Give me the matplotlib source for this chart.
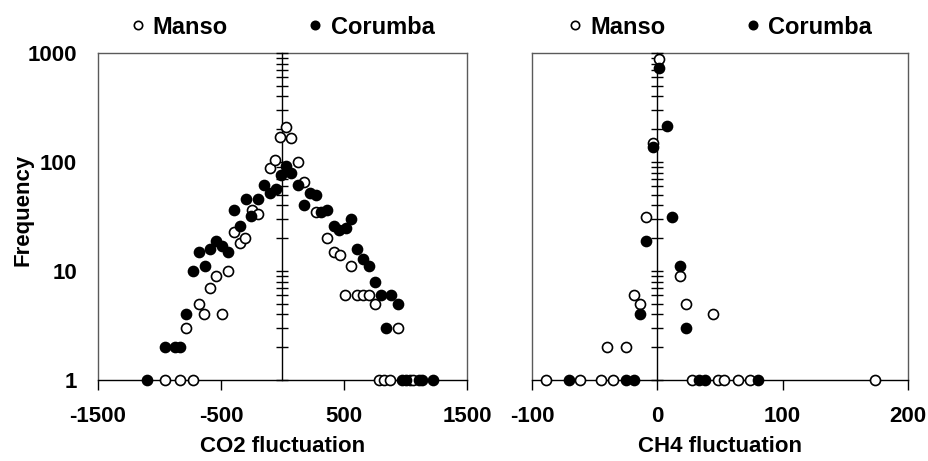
import matplotlib
matplotlib.use('Agg')
import matplotlib.pyplot as plt
from matplotlib.lines import Line2D
from matplotlib.ticker import FixedLocator, LogLocator, NullLocator, NullFormatter

plt.rcParams['font.family'] = ['Liberation Sans', 'DejaVu Sans']
plt.rcParams['font.weight'] = 'bold'

# ---------------- data ----------------
co2_manso_x = [-959, -831, -731, -782, -682, -636, -587, -540, -492, -443, -397, -348,
               -302, -247, -198, -103, -57, -22, 30, 73, 125, 174, 269, 364, 418, 465,
               508, 560, 603, 655, 704, 750, 785, 826, 875, 935, 1037, 1065]
co2_manso_y = [1, 1, 1, 3, 5, 4, 7, 9, 4, 10, 23, 18,
               20, 36, 33, 89, 104, 171, 211, 167, 100, 66, 35, 20, 15, 14,
               6, 11, 6, 6, 6, 5, 1, 1, 1, 3, 1, 1]

co2_corumba_x = [-1103, -959, -878, -831, -782, -731, -682, -633, -587, -540, -492, -443,
                 -397, -348, -296, -253, -198, -152, -103, -49, -16, 30, 73, 125, 174,
                 222, 269, 315, 364, 418, 459, 513, 560, 603, 657, 704, 750, 799, 839,
                 886, 935, 970, 1003, 1110, 1135, 1220]
co2_corumba_y = [1, 2, 2, 2, 4, 10, 15, 11, 16, 19, 17, 15,
                 36, 26, 46, 32, 46, 62, 52, 56, 76, 91, 79, 62, 40,
                 52, 50, 35, 36, 26, 24, 25, 30, 16, 13, 11, 8, 6, 3,
                 6, 5, 1, 1, 1, 1, 1]

ch4_manso_x = [-88.8, -61.7, -44.9, -35.6, -40, -25, -18.6, -13.8, -9.3, -3.7, 1.6,
               18.1, 22.9, 27.4, 44.2, 48.7, 53.5, 64.1, 74, 174]
ch4_manso_y = [1, 1, 1, 1, 2, 2, 6, 5, 31, 148, 876,
               9, 5, 1, 4, 1, 1, 1, 1, 1]

ch4_corumba_x = [-70.2, -25, -18.4, -13.8, -9.3, -3.7, 1.6, 7.5, 12, 18.1, 22.9,
                 33.5, 38.1, 80.6]
ch4_corumba_y = [1, 1, 1, 4, 19, 138, 724, 214, 31, 11, 3,
                 1, 1, 1]

co2_xticks = [-1500, -500, 500, 1500]
ch4_xticks = [-100, 0, 100, 200]
y_ticks = [1, 10, 100, 1000]
y_ticklabels = ['1', '10', '100', '1000']

W, H = 929, 461
fig = plt.figure(figsize=(W / 100, H / 100), dpi=100)
ax1 = fig.add_axes([98 / W, 81 / H, 369 / W, 327 / H])
ax2 = fig.add_axes([532 / W, 81 / H, 376 / W, 327 / H])

FS = 16
frame_col = '#5a5a5a'


def setup(ax, xlim, xticks, xlabel, show_ylabels, mx, my, cx, cy):
    ax.set_yscale('log')
    ax.set_ylim(1, 1000)
    ax.set_xlim(*xlim)
    ax.xaxis.set_major_locator(FixedLocator(xticks))
    ax.set_xticklabels([str(t) for t in xticks])
    ax.xaxis.set_minor_locator(NullLocator())
    ax.yaxis.set_major_locator(FixedLocator(y_ticks))
    ax.yaxis.set_minor_locator(NullLocator())
    ax.yaxis.set_minor_formatter(NullFormatter())
    if show_ylabels:
        ax.set_yticklabels(y_ticklabels)
    else:
        ax.set_yticklabels([])
    ax.tick_params(axis='y', length=0, pad=15, labelsize=FS)
    ax.tick_params(axis='x', direction='out', length=7, width=1, pad=12, labelsize=FS)
    for s in ['top', 'right', 'left']:
        ax.spines[s].set_color(frame_col)
        ax.spines[s].set_linewidth(1)
    ax.spines['bottom'].set_color('black')
    ax.spines['bottom'].set_linewidth(1)
    ax.set_xlabel(xlabel, fontsize=FS, fontweight='bold', labelpad=6)

    tw = ax.twinx()
    tw.set_yscale('log')
    tw.set_ylim(1, 1000)
    for s in ['top', 'left', 'bottom']:
        tw.spines[s].set_visible(False)
    tw.spines['right'].set_position(('data', 0))
    tw.spines['right'].set_color('black')
    tw.spines['right'].set_linewidth(1)
    tw.yaxis.set_major_locator(LogLocator(base=10))
    tw.yaxis.set_minor_locator(LogLocator(base=10, subs=range(2, 10)))
    tw.yaxis.set_minor_formatter(NullFormatter())
    tw.tick_params(axis='y', which='both', direction='inout', length=9, width=1,
                   labelright=False, colors='black')

    tw.scatter(mx, my, s=52, facecolors='white', edgecolors='black',
               linewidths=1.2, clip_on=False, zorder=5)
    tw.scatter(cx, cy, s=52, facecolors='black', edgecolors='black',
               linewidths=1.2, clip_on=False, zorder=6)

    handles = [Line2D([], [], linestyle='none', marker='o', markersize=6,
                      markerfacecolor='white', markeredgecolor='black', markeredgewidth=1.2),
               Line2D([], [], linestyle='none', marker='o', markersize=6,
                      markerfacecolor='black', markeredgecolor='black', markeredgewidth=1.2)]
    ax.legend(handles, ['Manso', 'Corumba'], loc='center',
              bbox_to_anchor=(0.5, 1 + 26 / 327), ncol=2, frameon=False,
              prop={'size': 17, 'weight': 'bold'}, handlelength=0.6,
              handletextpad=0.35, columnspacing=3.4, borderaxespad=0)
    return tw


setup(ax1, (-1500, 1500), co2_xticks, 'CO2 fluctuation', True,
      co2_manso_x, co2_manso_y, co2_corumba_x, co2_corumba_y)
setup(ax2, (-100, 200), ch4_xticks, 'CH4 fluctuation', False,
      ch4_manso_x, ch4_manso_y, ch4_corumba_x, ch4_corumba_y)

ax1.set_ylabel('Frequency', fontsize=FS, fontweight='bold')
ax1.yaxis.set_label_coords(-0.175, 0.52)

fig.savefig('out.png', dpi=100)
